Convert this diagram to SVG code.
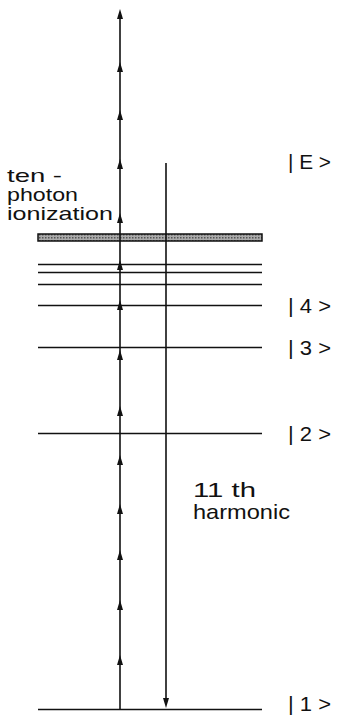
<svg xmlns="http://www.w3.org/2000/svg" width="339" height="717" viewBox="0 0 339 717">
<defs>
<style>
.lvl{stroke:#111;stroke-width:1.3;fill:none}
.arr{stroke:#111;stroke-width:1.6;fill:none}
.t{font-family:"Liberation Sans",Arial,sans-serif;font-size:21px;fill:#111}
.s{font-size:19px}
</style>
<path id="ah" d="M0,0 L-3,10 L3,10 Z" fill="#111"/>
<pattern id="hatch" width="3" height="3" patternUnits="userSpaceOnUse">
<rect width="3" height="3" fill="#aaa"/>
<rect width="1.5" height="1.5" fill="#555"/>
</pattern>
</defs>
<g id="levels">
<g id="band"><rect x="38" y="234" width="224" height="7" fill="url(#hatch)" stroke="#111" stroke-width="1.5"/></g>
<g id="lvl-a"><line class="lvl" x1="38" y1="264.5" x2="262" y2="264.5"/></g>
<g id="lvl-b"><line class="lvl" x1="38" y1="272.5" x2="262" y2="272.5"/></g>
<g id="lvl-c"><line class="lvl" x1="38" y1="284.5" x2="262" y2="284.5"/></g>
<g id="lvl-4"><line class="lvl" x1="38" y1="305.5" x2="262" y2="305.5"/><text class="t" x="288" y="313" textLength="43" lengthAdjust="spacingAndGlyphs">| 4 &gt;</text></g>
<g id="lvl-3"><line class="lvl" x1="38" y1="347.5" x2="262" y2="347.5"/><text class="t" x="288" y="355" textLength="43" lengthAdjust="spacingAndGlyphs">| 3 &gt;</text></g>
<g id="lvl-2"><line class="lvl" x1="38" y1="433.5" x2="262" y2="433.5"/><text class="t" x="288" y="441" textLength="43" lengthAdjust="spacingAndGlyphs">| 2 &gt;</text></g>
<g id="lvl-1"><line class="lvl" x1="38" y1="709.5" x2="262" y2="709.5"/><text class="t" x="288" y="711" textLength="43" lengthAdjust="spacingAndGlyphs">| 1 &gt;</text></g>
<g id="lvl-E"><text class="t" x="288" y="169" textLength="43" lengthAdjust="spacingAndGlyphs">| E &gt;</text></g>
</g>
<g id="connectors">
<g id="ten-photon">
<line class="arr" x1="120" y1="709" x2="120" y2="12"/>
<use href="#ah" x="120" y="9"/>
<use href="#ah" x="120" y="62"/>
<use href="#ah" x="120" y="110"/>
<use href="#ah" x="120" y="159"/>
<use href="#ah" x="120" y="213"/>
<use href="#ah" x="120" y="260"/>
<use href="#ah" x="120" y="300"/>
<use href="#ah" x="120" y="350"/>
<use href="#ah" x="120" y="406"/>
<use href="#ah" x="120" y="455"/>
<use href="#ah" x="120" y="504"/>
<use href="#ah" x="120" y="550"/>
<use href="#ah" x="120" y="600"/>
<use href="#ah" x="120" y="655"/>
</g>
<g id="harmonic">
<line class="arr" x1="166" y1="163" x2="166" y2="700"/>
<use href="#ah" transform="translate(166,708) rotate(180)"/>
</g>
</g>
<g id="label-ion">
<text class="t s" x="7" y="182" textLength="55" lengthAdjust="spacingAndGlyphs">ten -</text>
<text class="t s" x="7" y="201" textLength="71" lengthAdjust="spacingAndGlyphs">photon</text>
<text class="t s" x="7" y="220" textLength="106" lengthAdjust="spacingAndGlyphs">ionization</text>
</g>
<g id="label-harm">
<text class="t" x="193" y="497" textLength="63" lengthAdjust="spacingAndGlyphs">11 th</text>
<text class="t" x="193" y="519" textLength="97" lengthAdjust="spacingAndGlyphs">harmonic</text>
</g>
</svg>
